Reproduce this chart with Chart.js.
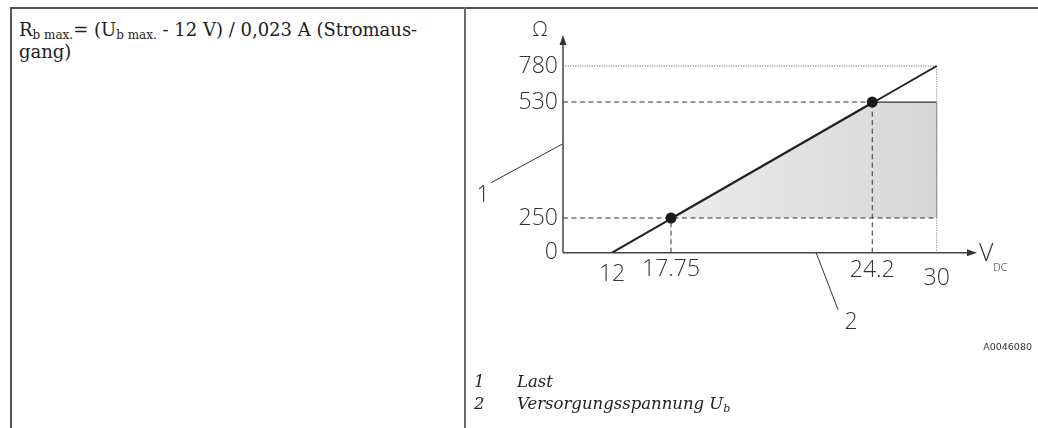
<!DOCTYPE html>
<html>
<head>
<meta charset="utf-8">
<script src="https://cdn.jsdelivr.net/npm/chart.js@4.4.0/dist/chart.umd.min.js"></script>
<style>
html, body { margin: 0; padding: 0; background: #fff; }
body { width: 1038px; height: 428px; position: relative; overflow: hidden; color: #222; font-family: "DejaVu Serif", serif; }
.rule { position: absolute; background: #555; }
#formula { position: absolute; left: 19px; top: 19px; font-size: 18px; line-height: 22px; white-space: nowrap; }
#formula sub { font-size: 12px; vertical-align: -3px; line-height: 0; }
#chart-container { position: absolute; left: 0; top: 0; width: 1038px; height: 428px; }
#fig-id { position: absolute; right: 6px; top: 341px; font: 9.5px "DejaVu Sans", sans-serif; color: #333; }
.legend-row { position: absolute; left: 474px; font-style: italic; font-size: 16.5px; line-height: 22px; white-space: nowrap; }
.legend-row span { position: absolute; left: 43px; }
.legend-row sub { font-size: 11px; vertical-align: -3px; line-height: 0; }
</style>
</head>
<body>
<div class="rule" style="left:10px; top:7px; width:1028px; height:2px"></div>
<div class="rule" style="left:10px; top:7px; width:2px; height:421px"></div>
<div class="rule" style="left:464px; top:7px; width:2px; height:421px; background:#6a6a6a"></div>

<div id="formula">R<sub>b max.</sub>= (U<sub>b max.</sub> - 12 V) / 0,023 A (Stromaus-<br>gang)</div>

<div id="chart-container"><canvas id="myChart"></canvas></div>

<div id="fig-id">A0046080</div>
<div class="legend-row" style="top:371px">1<span>Last</span></div>
<div class="legend-row" style="top:393px">2<span>Versorgungsspannung U<sub>b</sub></span></div>

<script>
// values
var voltageTicks = [12, 17.75, 24.2, 30]
var resistanceTicks = [0, 250, 530, 780]

var loadVoltage = [12, 30]
var loadResistance = [0, 780]

var markerVoltage = [17.75, 24.2]
var markerResistance = [250, 530]

// working range (shaded), bounded below by 250 Ohm
var areaVoltage = [17.75, 24.2, 30]
var areaResistance = [250, 530, 530]
var areaFloor = 250

var axisFont = "'Open Sans', 'Noto Sans', sans-serif"

// the drawing is schematic: the axes are not linear, so each scale is
// stretched piece by piece between its labelled values
class SchematicScale extends Chart.LinearScale {
    toDecimal(v) {
        var b = this.options.breaks
        for (var i = 1; i < b.length; i++) {
            if (v <= b[i][0] || i == b.length - 1) {
                return b[i - 1][1] + (v - b[i - 1][0]) / (b[i][0] - b[i - 1][0]) * (b[i][1] - b[i - 1][1])
            }
        }
    }
    getPixelForValue(value) {
        return this.getPixelForDecimal(this.toDecimal(value))
    }
    getValueForPixel(pixel) {
        var d = this.getDecimalForPixel(pixel)
        var b = this.options.breaks
        for (var i = 1; i < b.length; i++) {
            if (d <= b[i][1] || i == b.length - 1) {
                return b[i - 1][0] + (d - b[i - 1][1]) / (b[i][1] - b[i - 1][1]) * (b[i][0] - b[i - 1][0])
            }
        }
    }
}
SchematicScale.id = 'schematic'
Chart.register(SchematicScale)

function pairs(xs, ys) {
    var out = []
    for (var i = 0; i < xs.length; i++) out.push({x: xs[i], y: ys[i]})
    return out
}

function refLine(data, dash, color, order) {
    return {
        type: 'line', data: data, borderColor: color, borderWidth: 1,
        borderDash: dash, pointRadius: 0, fill: false, order: order
    }
}

var xMin = 0
var dashed = [5, 3.5]
var dotted = [1.2, 1.2]

var datasets = [
    {
        type: 'scatter', data: pairs(markerVoltage, markerResistance),
        pointRadius: 5.5, backgroundColor: '#1b1b1b', borderWidth: 0, order: 0
    },
    {
        type: 'line', data: pairs(loadVoltage, loadResistance),
        borderColor: '#222', borderWidth: 2, pointRadius: 0, fill: false, order: 1
    },
    refLine([{x: xMin, y: markerResistance[0]}, {x: voltageTicks[3], y: markerResistance[0]}], dashed, '#333', 2),
    refLine([{x: xMin, y: markerResistance[1]}, {x: markerVoltage[1], y: markerResistance[1]}], dashed, '#333', 2),
    refLine([{x: markerVoltage[0], y: 0}, {x: markerVoltage[0], y: markerResistance[0]}], dashed, '#333', 2),
    refLine([{x: markerVoltage[1], y: 0}, {x: markerVoltage[1], y: markerResistance[1]}], dashed, '#333', 2),
    refLine([{x: xMin, y: resistanceTicks[3]}, {x: voltageTicks[3], y: resistanceTicks[3]}], dotted, '#777', 3),
    refLine([{x: voltageTicks[3], y: 0}, {x: voltageTicks[3], y: resistanceTicks[3]}], dotted, '#888', 3),
    refLine([{x: voltageTicks[3], y: areaFloor}, {x: voltageTicks[3], y: areaResistance[2]}], [], '#999', 3),
    {
        type: 'line', data: pairs(areaVoltage, areaResistance),
        borderColor: '#333', borderWidth: 1.2, pointRadius: 0,
        fill: {value: areaFloor},
        backgroundColor: function (c) {
            var chart = c.chart
            if (!chart.chartArea) return '#e0e0e0'
            var xs = chart.scales.x
            var g = chart.ctx.createLinearGradient(xs.getPixelForValue(areaVoltage[0]), 0, xs.getPixelForValue(areaVoltage[2]), 0)
            g.addColorStop(0, '#ececec')
            g.addColorStop(1, '#d6d6d6')
            return g
        },
        order: 4
    }
]

var xLabelDrop = [22, 16.5, 17.5, 26]

var decorations = {
    id: 'decorations',
    beforeDatasetsDraw: function (chart) {
        var c = chart.ctx, a = chart.chartArea
        c.save()
        c.strokeStyle = '#444'
        c.fillStyle = '#333'
        c.lineWidth = 1.5
        c.beginPath()
        c.moveTo(a.left, a.bottom)
        c.lineTo(a.left, a.top + 8)
        c.moveTo(a.left, a.bottom)
        c.lineTo(a.right - 8, a.bottom)
        c.stroke()
        c.beginPath()
        c.moveTo(a.left, a.top)
        c.lineTo(a.left - 3.5, a.top + 10)
        c.lineTo(a.left + 3.5, a.top + 10)
        c.closePath()
        c.fill()
        c.beginPath()
        c.moveTo(a.right, a.bottom)
        c.lineTo(a.right - 10, a.bottom - 3.5)
        c.lineTo(a.right - 10, a.bottom + 3.5)
        c.closePath()
        c.fill()
        c.restore()
    },
    afterDatasetsDraw: function (chart) {
        var c = chart.ctx, a = chart.chartArea, xs = chart.scales.x
        c.save()
        c.fillStyle = '#333'
        c.textAlign = 'center'
        c.textBaseline = 'middle'
        c.font = '300 23px ' + axisFont
        for (var i = 0; i < voltageTicks.length; i++) {
            c.fillText(String(voltageTicks[i]), xs.getPixelForValue(voltageTicks[i]), a.bottom + xLabelDrop[i])
        }
        // axis names
        c.font = '300 20px ' + axisFont
        c.fillText('Ω', a.left - 23, a.top - 5)
        c.textAlign = 'left'
        c.font = '300 25px ' + axisFont
        c.fillText('V', a.right + 2, a.bottom + 1)
        c.font = '300 11px ' + axisFont
        c.fillText('DC', a.right + 16, a.bottom + 15)
        // callouts
        c.strokeStyle = '#333'
        c.lineWidth = 1
        c.beginPath()
        c.moveTo(a.left - 72, a.bottom - 70)
        c.lineTo(a.left, a.bottom - 109)
        c.moveTo(xs.getPixelForValue(22.4), a.bottom)
        c.lineTo(xs.getPixelForValue(22.4) + 22, a.bottom + 57)
        c.stroke()
        c.textAlign = 'center'
        c.font = '300 23px ' + axisFont
        c.fillText('1', a.left - 80, a.bottom - 57)
        c.fillText('2', xs.getPixelForValue(22.4) + 35, a.bottom + 70)
        c.restore()
    }
}

var ctx = document.getElementById('myChart')
var myChart = new Chart(ctx, {
    data: {datasets: datasets},
    options: {
        responsive: true,
        maintainAspectRatio: false,
        animation: false,
        events: [],
        layout: {padding: {left: 513, right: 61, top: 35, bottom: 175.3}},
        scales: {
            x: {
                type: 'schematic', min: 0, max: 32,
                breaks: [[0, 0], [12, 0.1184], [17.75, 0.2609], [24.2, 0.747], [30, 0.9027], [32, 1]],
                display: true,
                ticks: {display: false},
                grid: {display: false},
                border: {display: false},
                afterFit: function (s) { s.height = 0 }
            },
            y: {
                type: 'schematic', min: 0, max: 900,
                breaks: [[0, 0], [250, 0.1594], [530, 0.692], [780, 0.8576], [900, 1]],
                afterBuildTicks: function (s) {
                    s.ticks = resistanceTicks.map(function (v) { return {value: v} })
                },
                ticks: {
                    color: '#333', padding: 5,
                    font: {family: axisFont, size: 23, weight: 300},
                    callback: function (v) { return String(v) }
                },
                grid: {display: false, drawTicks: false},
                border: {display: false},
                afterFit: function (s) { s.width = 50 }
            }
        },
        plugins: {
            legend: {display: false},
            tooltip: {enabled: false}
        }
    },
    plugins: [decorations]
})
</script>
</body>
</html>
